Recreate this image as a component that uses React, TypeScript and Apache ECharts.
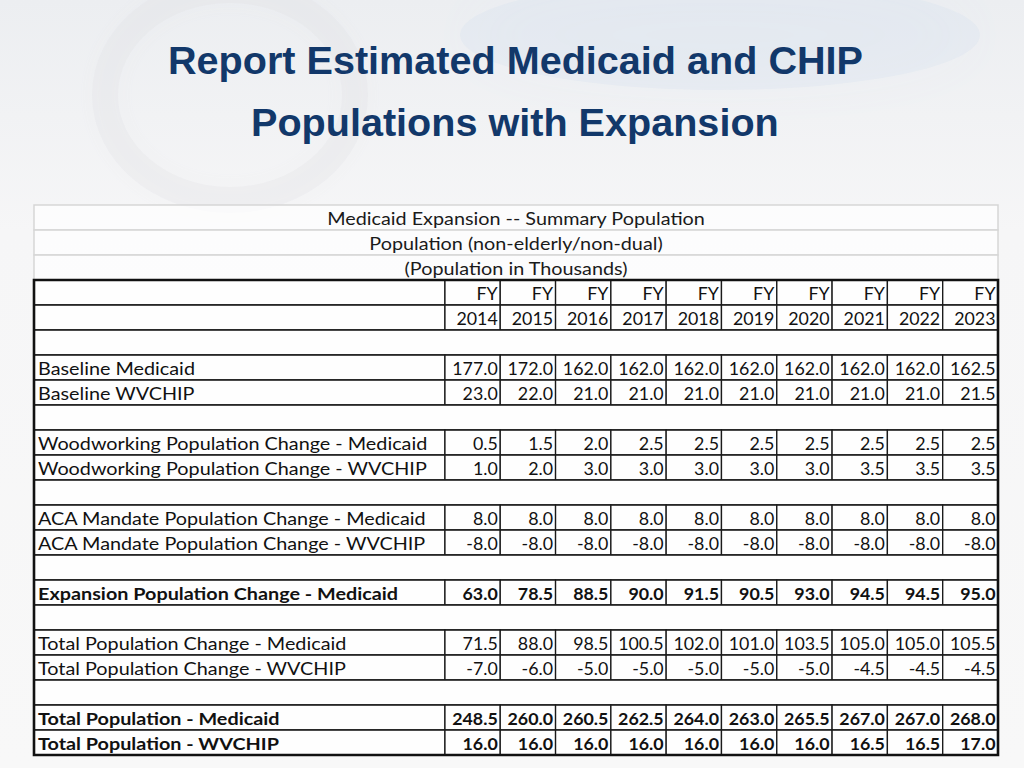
import React, { useEffect, useRef } from "react";
import * as echarts from "echarts";

const titleLines = ["Report Estimated Medicaid and CHIP", "Populations with Expansion"];
const headerLines = [
  "Medicaid Expansion -- Summary Population",
  "Population (non-elderly/non-dual)",
  "(Population in Thousands)",
];
const years = [2014, 2015, 2016, 2017, 2018, 2019, 2020, 2021, 2022, 2023];
const fyLabel = "FY";

const baselineMedicaid = [177.0, 172.0, 162.0, 162.0, 162.0, 162.0, 162.0, 162.0, 162.0, 162.5];
const baselineWVCHIP = [23.0, 22.0, 21.0, 21.0, 21.0, 21.0, 21.0, 21.0, 21.0, 21.5];
const woodworkingMedicaid = [0.5, 1.5, 2.0, 2.5, 2.5, 2.5, 2.5, 2.5, 2.5, 2.5];
const woodworkingWVCHIP = [1.0, 2.0, 3.0, 3.0, 3.0, 3.0, 3.0, 3.5, 3.5, 3.5];
const acaMedicaid = [8.0, 8.0, 8.0, 8.0, 8.0, 8.0, 8.0, 8.0, 8.0, 8.0];
const acaWVCHIP = [-8.0, -8.0, -8.0, -8.0, -8.0, -8.0, -8.0, -8.0, -8.0, -8.0];
const expansionMedicaid = [63.0, 78.5, 88.5, 90.0, 91.5, 90.5, 93.0, 94.5, 94.5, 95.0];
const totalChangeMedicaid = [71.5, 88.0, 98.5, 100.5, 102.0, 101.0, 103.5, 105.0, 105.0, 105.5];
const totalChangeWVCHIP = [-7.0, -6.0, -5.0, -5.0, -5.0, -5.0, -5.0, -4.5, -4.5, -4.5];
const totalMedicaid = [248.5, 260.0, 260.5, 262.5, 264.0, 263.0, 265.5, 267.0, 267.0, 268.0];
const totalWVCHIP = [16.0, 16.0, 16.0, 16.0, 16.0, 16.0, 16.0, 16.5, 16.5, 17.0];

const sections = [
  [
    { label: "Baseline Medicaid", values: baselineMedicaid, bold: false },
    { label: "Baseline WVCHIP", values: baselineWVCHIP, bold: false },
  ],
  [
    { label: "Woodworking Population Change - Medicaid", values: woodworkingMedicaid, bold: false },
    { label: "Woodworking Population Change - WVCHIP", values: woodworkingWVCHIP, bold: false },
  ],
  [
    { label: "ACA Mandate Population Change - Medicaid", values: acaMedicaid, bold: false },
    { label: "ACA Mandate Population Change - WVCHIP", values: acaWVCHIP, bold: false },
  ],
  [{ label: "Expansion Population Change - Medicaid", values: expansionMedicaid, bold: true }],
  [
    { label: "Total Population Change - Medicaid", values: totalChangeMedicaid, bold: false },
    { label: "Total Population Change - WVCHIP", values: totalChangeWVCHIP, bold: false },
  ],
  [
    { label: "Total Population - Medicaid", values: totalMedicaid, bold: true },
    { label: "Total Population - WVCHIP", values: totalWVCHIP, bold: true },
  ],
];

type Row =
  | { kind: "title"; text: string }
  | { kind: "head"; cells: string[] }
  | { kind: "blank" }
  | { kind: "data"; label: string; cells: string[]; bold: boolean };

const rows: Row[] = [];
headerLines.forEach((t) => rows.push({ kind: "title", text: t }));
rows.push({ kind: "head", cells: years.map(() => fyLabel) });
rows.push({ kind: "head", cells: years.map((y) => String(y)) });
sections.forEach((sec) => {
  rows.push({ kind: "blank" });
  sec.forEach((r) =>
    rows.push({ kind: "data", label: r.label, cells: r.values.map((v) => v.toFixed(1)), bold: r.bold })
  );
});

const LABEL_UNITS = 7.43;
const TOTAL_UNITS = LABEL_UNITS + years.length;
const FONT = "Lato, 'Open Sans', sans-serif";
const FS = 16.5;
const TEXT_STRETCH = 1.2;
const NUM_STRETCH = 1.08;

function txt(text: string, x: number, y: number, align: string, bold: boolean, stretch: number, color = "#111") {
  return {
    type: "text",
    x,
    y,
    scaleX: stretch,
    scaleY: 1,
    style: {
      text,
      x: 0,
      y: 0,
      align,
      textAlign: align,
      verticalAlign: "middle",
      textVerticalAlign: "middle",
      fill: color,
      textFill: color,
      font: `${bold ? "bold " : ""}${FS}px ${FONT}`,
    },
  };
}

export default function App() {
  const ref = useRef<HTMLDivElement>(null);
  useEffect(() => {
    if (!ref.current) return;
    const chart = echarts.init(ref.current, undefined, { renderer: "svg" });
    const firstDark = headerLines.length;

    const renderRow = (params: any, api: any) => {
      const r = api.value(1) as number;
      const row = rows[r];
      const [xL, yC] = api.coord([0, r]);
      const [xR] = api.coord([TOTAL_UNITS, r]);
      const h = api.size([0, 1])[1];
      const y0 = yC - h / 2;
      const children: any[] = [];
      const ty = yC + 1;
      const cellStyle = { fill: "rgba(255,255,255,0.82)", stroke: "#1a1a1a", lineWidth: 1.3 };
      if (row.kind === "title") {
        children.push({
          type: "rect",
          shape: { x: xL, y: y0, width: xR - xL, height: h },
          style: { fill: "rgba(255,255,255,0.7)", stroke: "#d6d6d6", lineWidth: 1.5 },
        });
        children.push(txt(row.text, (xL + xR) / 2, ty, "center", false, TEXT_STRETCH, "#1a1a1a"));
      } else if (row.kind === "blank") {
        children.push({
          type: "rect",
          shape: { x: xL, y: y0, width: xR - xL, height: h },
          style: cellStyle,
        });
      } else {
        const xs: number[] = [];
        for (let j = 0; j <= years.length; j++) xs.push(api.coord([LABEL_UNITS + j, r])[0]);
        children.push({
          type: "rect",
          shape: { x: xL, y: y0, width: xs[0] - xL, height: h },
          style: cellStyle,
        });
        for (let j = 0; j < years.length; j++) {
          children.push({
            type: "rect",
            shape: { x: xs[j], y: y0, width: xs[j + 1] - xs[j], height: h },
            style: cellStyle,
          });
        }
        const bold = row.kind === "data" ? row.bold : false;
        if (row.kind === "data") children.push(txt(row.label, xL + 4, ty, "left", bold, TEXT_STRETCH));
        row.cells.forEach((c, j) =>
          children.push(txt(c, xs[j + 1] - 2.5, ty, "right", bold, NUM_STRETCH))
        );
      }
      return { type: "group", children };
    };

    const renderBorder = (params: any, api: any) => {
      const r0 = api.value(1) as number;
      const r1 = rows.length - 1;
      const [xL, yA] = api.coord([0, r0]);
      const [xR, yB] = api.coord([TOTAL_UNITS, r1]);
      const h = api.size([0, 1])[1];
      return {
        type: "rect",
        shape: { x: xL, y: yA - h / 2, width: xR - xL, height: yB - yA + h },
        style: { fill: "none", stroke: "#111", lineWidth: 2.6 },
      };
    };

    chart.setOption({
      animation: false,
      backgroundColor: "#f4f5f6",
      graphic: [
        {
          type: "rect",
          silent: true,
          z: -10,
          shape: { x: 0, y: 0, width: 1024, height: 768 },
          style: {
            fill: {
              type: "linear",
              x: 0,
              y: 0,
              x2: 0,
              y2: 1,
              colorStops: [
                { offset: 0, color: "#eceef1" },
                { offset: 0.3, color: "#f6f6f7" },
                { offset: 1, color: "#f8f8f8" },
              ],
            },
          },
        },
        {
          type: "ellipse",
          silent: true,
          z: -9,
          shape: { cx: 720, cy: 35, rx: 260, ry: 55 },
          style: { fill: "rgba(205,218,236,0.22)", shadowBlur: 60, shadowColor: "rgba(205,218,236,0.45)" },
        },
        {
          type: "ellipse",
          silent: true,
          z: -9,
          shape: { cx: 230, cy: 95, rx: 125, ry: 105 },
          style: {
            fill: "none",
            stroke: "rgba(218,219,223,0.22)",
            lineWidth: 26,
            shadowBlur: 30,
            shadowColor: "rgba(218,219,223,0.4)",
          },
        },
        {
          type: "text",
          left: 168,
          top: 40,
          style: {
            text: titleLines[0],
            font: "bold 39.6px 'Liberation Sans', Arial, sans-serif",
            fill: "#12386a",
          },
        },
        {
          type: "text",
          left: 251,
          top: 102,
          style: {
            text: titleLines[1],
            font: "bold 39.6px 'Liberation Sans', Arial, sans-serif",
            fill: "#12386a",
          },
        },
      ],
      grid: { left: 34, top: 205, right: 26, bottom: 13 },
      xAxis: { type: "value", min: 0, max: TOTAL_UNITS, show: false },
      yAxis: {
        type: "category",
        inverse: true,
        show: false,
        data: rows.map((_, i) => String(i)),
      },
      series: [
        {
          type: "custom",
          renderItem: renderRow,
          encode: { x: 0, y: 1 },
          data: rows.map((_, i) => [0, i]),
          z: 2,
        },
        {
          type: "custom",
          renderItem: renderBorder,
          encode: { x: 0, y: 1 },
          data: [[0, firstDark]],
          z: 3,
        },
      ],
    });
    return () => chart.dispose();
  }, []);
  return (
    <div
      ref={ref}
      style={{ position: "fixed", left: 0, top: 0, width: 1024, height: 768 }}
    />
  );
}
